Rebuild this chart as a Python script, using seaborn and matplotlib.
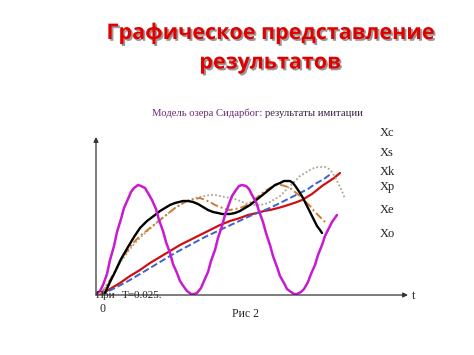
import numpy as np
import pandas as pd
import matplotlib
matplotlib.use("Agg")
import matplotlib.pyplot as plt
import matplotlib.patheffects as pe
import seaborn as sns

# ---- data (t and X in arbitrary units) ----
t_xc = [0, 4, 7, 11, 14, 18, 21, 25, 28, 32, 35, 38, 42, 45, 49, 52, 56, 60, 63, 67, 70,
        74, 77, 81, 84, 88, 91, 95, 98, 101, 105, 108, 112, 115, 119, 122, 126, 129,
        133, 136, 140, 143, 146, 150, 153, 156, 160, 163, 167, 170, 174, 177, 181, 184,
        188, 191, 195, 198, 201, 205, 208, 212, 215, 219, 222, 226, 229, 233, 236, 241]
x_xc = [1, 4, 10, 21, 35, 49, 63, 76, 87, 96, 103, 107, 110, 109, 107, 102, 95, 86, 75,
        64, 53, 42, 31, 22, 14, 8, 4, 1, 1, 2, 7, 14, 23, 34, 45, 57, 69, 80, 91, 99,
        105, 109, 110, 109, 106, 100, 93, 84, 73, 62, 50, 39, 28, 19, 12, 6, 3, 1, 1, 3,
        6, 13, 21, 30, 40, 50, 59, 67, 73, 80]

t_xs = [9, 14, 19, 25, 32, 38, 44, 51, 59, 64, 69, 74, 79, 83, 87, 92, 97, 102, 107, 112,
        117, 122, 126, 130, 134, 139, 144, 149, 154, 159, 164, 169, 174, 179, 184, 188,
        191, 194, 197, 200, 204, 207, 210, 213, 216, 219, 221, 224, 226]
x_xs = [2, 13, 23, 36, 48, 58, 67, 74, 80, 84, 87, 90, 92, 93, 94, 94, 93, 91, 88, 85,
        83, 82, 81, 81, 81, 82, 84, 87, 90, 94, 98, 102, 106, 110, 112, 114, 114, 114,
        112, 108, 102, 97, 91, 85, 79, 73, 69, 65, 62]

t_xk = [4, 9, 14, 19, 24, 29, 34, 39, 44, 49, 54, 59, 64, 69, 74, 79, 84, 89, 94, 99,
        104, 109, 114, 119, 124, 129, 134, 139, 144, 149, 154, 159, 164, 169, 174, 178,
        181, 185, 189, 194, 199, 204, 209, 214, 219, 225, 231]
x_xk = [0, 7, 15, 24, 33, 41, 48, 54, 59, 63, 67, 71, 75, 79, 83, 87, 90, 93, 95, 96,
        97, 95, 93, 90, 88, 86, 85, 86, 87, 89, 92, 96, 100, 104, 107, 109, 110, 110,
        109, 107, 103, 99, 94, 89, 83, 77, 71]

t_xp = [4, 9, 14, 19, 24, 29, 34, 39, 44, 49, 54, 59, 64, 69, 74, 79, 84, 89, 94, 99,
        104, 109, 114, 119, 124, 129, 134, 139, 144, 149, 154, 159, 164, 169, 174, 179,
        184, 189, 194, 199, 204, 209, 214, 218, 222, 226, 229, 233, 236, 239, 242, 246,
        249]
x_xp = [0, 7, 14, 23, 32, 39, 46, 52, 57, 62, 66, 71, 75, 79, 83, 87, 90, 93, 95, 97,
        98, 99, 100, 100, 99, 98, 97, 96, 94, 92, 91, 90, 90, 91, 93, 96, 99, 104, 109,
        114, 119, 122, 125, 127, 128, 128, 128, 126, 123, 118, 112, 104, 96]

t_xe = [4, 14, 24, 34, 44, 54, 64, 74, 84, 94, 104, 114, 124, 134, 144, 152, 161, 168,
        174, 182, 189, 195, 201, 206, 211, 216, 221, 226, 232, 238, 244]
x_xe = [0, 6, 12, 19, 25, 32, 38, 44, 50, 55, 60, 65, 70, 74, 77, 80, 82, 84, 85, 87,
        89, 91, 93, 95, 98, 101, 105, 109, 113, 117, 122]

t_xo = [4, 19, 34, 49, 64, 79, 94, 109, 124, 139, 154, 161, 169, 176, 184, 194, 204,
        212, 219, 228, 236]
x_xo = [0, 7, 15, 24, 33, 42, 50, 58, 65, 72, 79, 82, 85, 88, 92, 97, 102, 106, 111,
        116, 122]

labels = ["Xc", "Xs", "Xk", "Xp", "Xe", "Xo"]

# ---- figure ----
sns.set_theme(style="white")
plt.rcParams["font.family"] = ["DejaVu Sans"]
W, H = 474, 355
fig = plt.figure(figsize=(W / 100, H / 100), dpi=100)
fig.patch.set_facecolor("white")

x0, y0 = 96, 295          # pixel origin of the plot axes
xr, yt = 408, 137         # pixel ends of the axis arrows
ax = fig.add_axes([x0 / W, (H - y0) / H, (xr - x0) / W, (y0 - yt) / H])
ax.set_xlim(0, xr - x0)
ax.set_ylim(0, y0 - yt)
ax.set_facecolor("none")
for s in ["top", "right", "left", "bottom"]:
    ax.spines[s].set_visible(False)
ax.set_xticks([])
ax.set_yticks([])

def draw(t, x, **kw):
    df = pd.DataFrame({"t": t, "x": x})
    sns.lineplot(data=df, x="t", y="x", ax=ax, sort=False, estimator=None, **kw)

draw(t_xe, x_xe, color="#d01010", lw=1.6)
draw(t_xo, x_xo, color="#3a64cc", lw=1.4, linestyle=(0, (3.5, 1.5)))
draw(t_xp, x_xp, color="#aaa890", lw=1.3, linestyle=(0, (1, 1.2)))
draw(t_xk, x_xk, color="#d07a30", lw=1.4, linestyle=(0, (4, 1.5, 1, 1.5)))
draw(t_xs, x_xs, color="#000000", lw=1.7)
draw(t_xc, x_xc, color="#c81ad0", lw=1.8)

# axes with arrows
ax.annotate("", xy=(1, 0), xytext=(0, 0), xycoords="axes fraction",
            arrowprops=dict(arrowstyle="-|>", color="#333333", lw=0.9,
                            mutation_scale=7, shrinkA=0, shrinkB=0))
ax.annotate("", xy=(0, 1), xytext=(0, 0), xycoords="axes fraction",
            arrowprops=dict(arrowstyle="-|>", color="#333333", lw=0.9,
                            mutation_scale=7, shrinkA=0, shrinkB=0))

serif = ["Liberation Serif", "DejaVu Serif"]

def ftext(px, py, s, **kw):
    return fig.text(px / W, 1 - py / H, s, **kw)

# title with shadow
for i, line in enumerate(["Графическое представление", "результатов"]):
    ftext(270, 33 + 30 * i, line, ha="center", va="center", fontsize=15.5,
          fontweight="bold", color="#e00000", family=["Open Sans", "DejaVu Sans"],
          path_effects=[pe.withSimplePatchShadow(offset=(1.3, -1.3),
                                                 shadow_rgbFace="#555555",
                                                 alpha=0.6)])

ftext(262, 113, "Модель озера Сидарбог:", ha="right",
      va="center", fontsize=7.7, color="#6a2a72", family=serif)
ftext(265, 113, "результаты имитации", ha="left",
      va="center", fontsize=7.7, color="#3a2040", family=serif)

label_y = [133, 153, 172, 187, 210, 234]
for lab, py in zip(labels, label_y):
    ftext(380, py, lab, ha="left", va="center", fontsize=9, color="#222222",
          family=serif)

ftext(412, 296, "t", ha="left", va="center", fontsize=9, color="#222222", family=serif)
ftext(96, 295, "При", ha="left", va="center", fontsize=8,
      color="#222222", family=serif)
ftext(122, 295, "T=0.025.", ha="left", va="center", fontsize=8,
      color="#222222", family=serif)
ftext(102, 309, "0", ha="center", va="center", fontsize=8.5, color="#222222",
      family=serif)
ftext(245, 314, "Рис 2", ha="center", va="center", fontsize=8.5, color="#222222",
      family=serif)

fig.savefig("out.png", dpi=100, facecolor="white")
